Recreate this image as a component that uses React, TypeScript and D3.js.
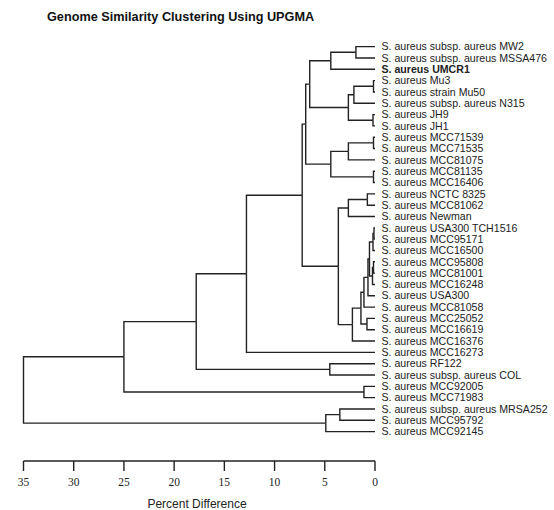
import React from 'react';
import * as d3 from 'd3';

const leaves = [
  'S. aureus subsp. aureus MW2',
  'S. aureus subsp. aureus MSSA476',
  'S. aureus UMCR1',
  'S. aureus Mu3',
  'S. aureus strain Mu50',
  'S. aureus subsp. aureus N315',
  'S. aureus JH9',
  'S. aureus JH1',
  'S. aureus MCC71539',
  'S. aureus MCC71535',
  'S. aureus MCC81075',
  'S. aureus MCC81135',
  'S. aureus MCC16406',
  'S. aureus NCTC 8325',
  'S. aureus MCC81062',
  'S. aureus Newman',
  'S. aureus USA300 TCH1516',
  'S. aureus MCC95171',
  'S. aureus MCC16500',
  'S. aureus MCC95808',
  'S. aureus MCC81001',
  'S. aureus MCC16248',
  'S. aureus USA300',
  'S. aureus MCC81058',
  'S. aureus MCC25052',
  'S. aureus MCC16619',
  'S. aureus MCC16376',
  'S. aureus MCC16273',
  'S. aureus RF122',
  'S. aureus subsp. aureus COL',
  'S. aureus MCC92005',
  'S. aureus MCC71983',
  'S. aureus subsp. aureus MRSA252',
  'S. aureus MCC95792',
  'S. aureus MCC92145',
];

const highlighted = ['S. aureus UMCR1'];

// linkage: [left, right, percent difference]; ids < leaves.length are leaves,
// id leaves.length + k is the k-th merge
const merges: [number, number, number][] = [
  [0, 1, 1.9],
  [35, 2, 4.4],
  [3, 4, 0.15],
  [37, 5, 2.1],
  [6, 7, 0.2],
  [38, 39, 2.65],
  [36, 40, 6.5],
  [8, 9, 0.15],
  [42, 10, 2.65],
  [11, 12, 0.15],
  [43, 44, 4.4],
  [41, 45, 6.9],
  [13, 14, 0.76],
  [47, 15, 2.65],
  [16, 17, 0.1],
  [49, 18, 0.2],
  [19, 20, 0.15],
  [51, 21, 0.25],
  [50, 52, 0.55],
  [53, 22, 0.7],
  [54, 23, 1.1],
  [24, 25, 0.8],
  [55, 56, 1.4],
  [57, 26, 2.25],
  [48, 58, 3.65],
  [46, 59, 7.25],
  [60, 27, 12.8],
  [28, 29, 4.5],
  [61, 62, 17.8],
  [30, 31, 1.1],
  [63, 64, 25],
  [32, 33, 3.5],
  [66, 34, 4.9],
  [65, 67, 35],
];

const axisTicks = [35, 30, 25, 20, 15, 10, 5, 0];

type TreeNode = { name: string; height: number; children?: TreeNode[] };

const buildTree = (): TreeNode => {
  const nodes: TreeNode[] = leaves.map((name) => ({ name, height: 0 }));
  merges.forEach(([a, b, h], k) => {
    nodes.push({ name: `n${k}`, height: h, children: [nodes[a], nodes[b]] });
  });
  return nodes[nodes.length - 1];
};

const App = () => {
  const width = 554;
  const height = 510;
  const top = 41;
  const bottom = 437.3;
  const axisY = 461;

  const x = d3.scaleLinear().domain([35, 0]).range([23.5, 375]);

  const root = d3.hierarchy(buildTree());
  d3.cluster<TreeNode>().size([bottom - top, 1]).separation(() => 1)(root);

  const ny = (d: d3.HierarchyNode<TreeNode>) => (d as any).x + top;
  const nx = (d: d3.HierarchyNode<TreeNode>) => x(d.data.height);

  const links = root.links();
  const stroke = '#222';
  const sans = "'Liberation Sans', Arial, sans-serif";

  return (
    <div style={{ position: 'absolute', left: 0, top: 0 }}>
      <svg width={width} height={height} style={{ display: 'block', background: '#fff' }}>
        <text x={47} y={21} fontFamily={sans} fontSize={12.7} fontWeight="bold" fill="#111">
          Genome Similarity Clustering Using UPGMA
        </text>

        <g fill="none" stroke={stroke} strokeWidth={1.4}>
          {links.map((l, i) => (
            <path
              key={i}
              d={`M${nx(l.source)},${ny(l.source)}V${ny(l.target)}H${nx(l.target)}`}
            />
          ))}
        </g>

        <g fontFamily={sans} fontSize={10.6} fill="#222">
          {root.leaves().map((d, i) => (
            <text
              key={i}
              x={381.5}
              y={ny(d)}
              dy="0.35em"
              fontWeight={highlighted.includes(d.data.name) ? 'bold' : 'normal'}
            >
              {d.data.name}
            </text>
          ))}
        </g>

        <g stroke={stroke} strokeWidth={1.4}>
          <line x1={x(35)} x2={x(0)} y1={axisY} y2={axisY} />
          {axisTicks.map((t) => (
            <line key={t} x1={x(t)} x2={x(t)} y1={axisY} y2={axisY + 10} />
          ))}
        </g>
        <g fontFamily="'Liberation Serif', 'Times New Roman', serif" fontSize={11.5} fill="#222" textAnchor="middle">
          {axisTicks.map((t) => (
            <text key={t} x={x(t)} y={486}>
              {t}
            </text>
          ))}
        </g>
        <text x={197} y={508} textAnchor="middle" fontFamily={sans} fontSize={12} fill="#222">
          Percent Difference
        </text>
      </svg>
    </div>
  );
};

export default App;
